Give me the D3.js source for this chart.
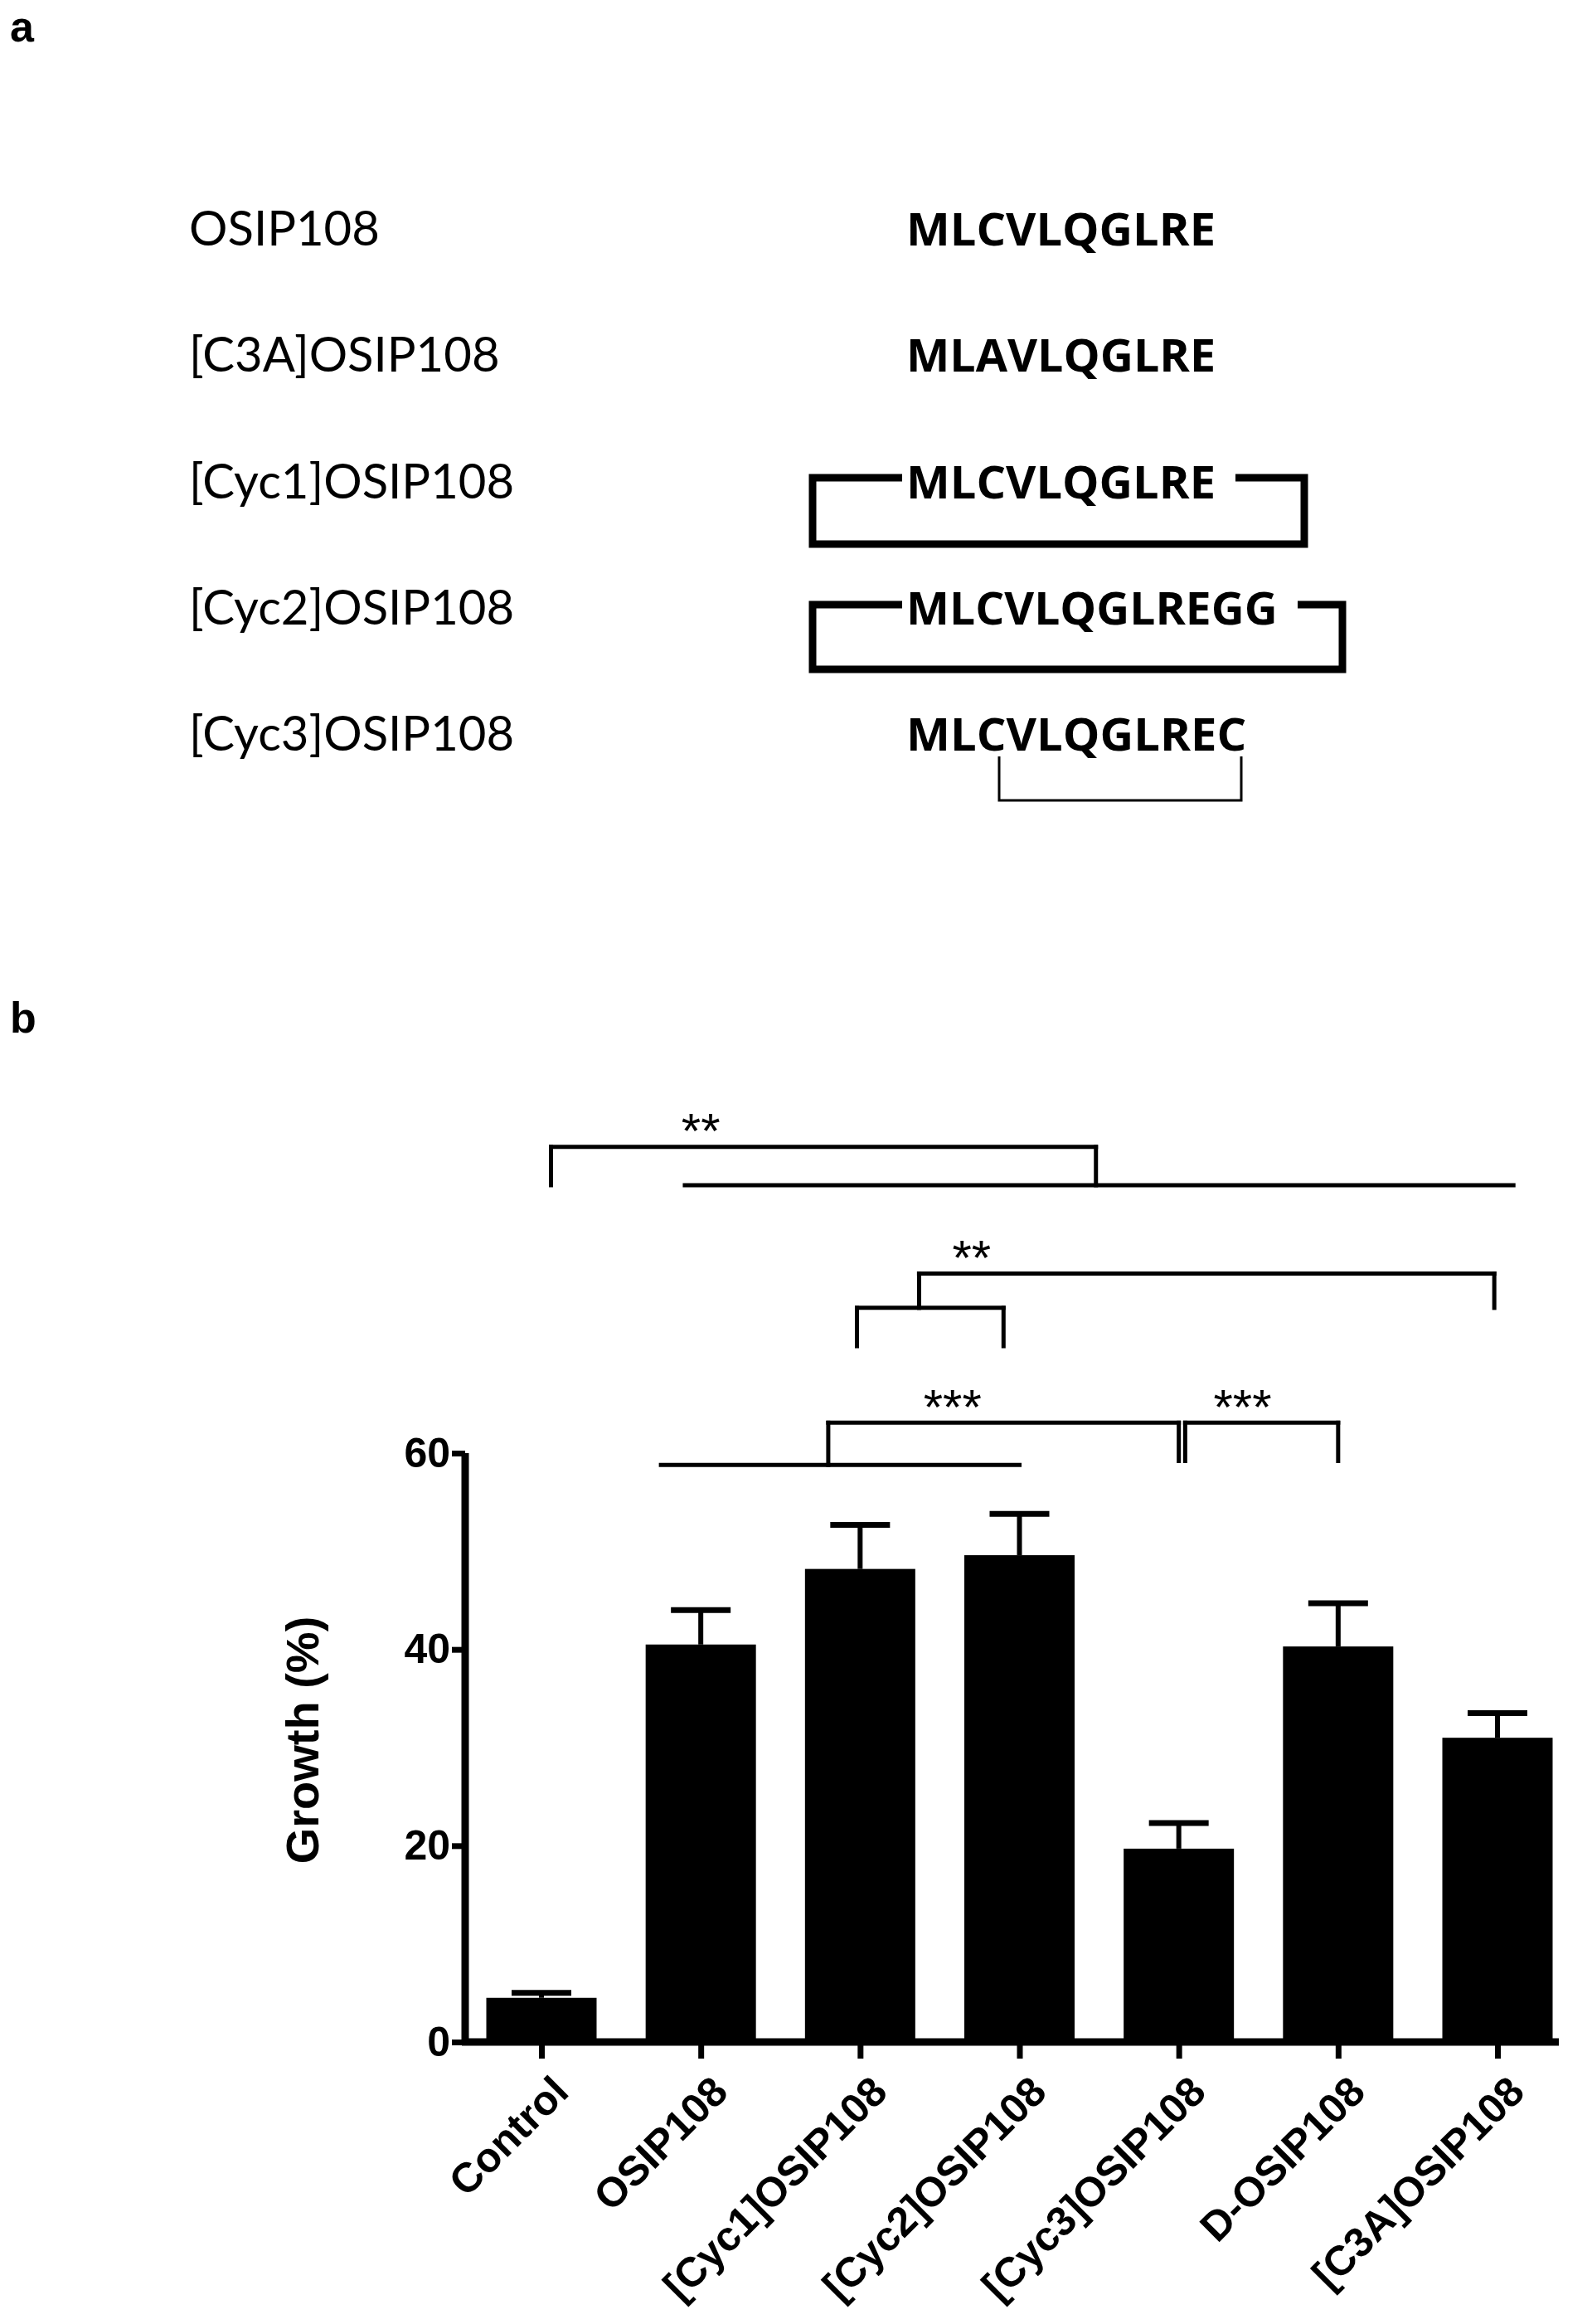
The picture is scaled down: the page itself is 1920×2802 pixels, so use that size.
<!DOCTYPE html>
<html><head><meta charset="utf-8">
<script src="https://cdn.jsdelivr.net/npm/d3@7"></script>
<style>body{margin:0;background:#fff}svg{display:block}</style>
</head><body>
<script>
const peptideNames = ["OSIP108","[C3A]OSIP108","[Cyc1]OSIP108","[Cyc2]OSIP108","[Cyc3]OSIP108"];
const sequences = ["MLCVLQGLRE","MLAVLQGLRE","MLCVLQGLRE","MLCVLQGLREGG","MLCVLQGLREC"];
const categories = ["Control","OSIP108","[Cyc1]OSIP108","[Cyc2]OSIP108","[Cyc3]OSIP108","D-OSIP108","[C3A]OSIP108"];
const growth = [4.5,40.5,48.2,49.6,19.7,40.3,31.0];
const errTop = [5.0,44.0,52.7,53.8,22.3,44.7,33.5];
const yTicks = [0,20,40,60];
const sigSegments = [
  [0.06,87.3,0.06,91.2],[0.06,91.2,3.48,91.2],[3.48,91.2,3.48,87.3],[0.9,87.3,6.1,87.3],
  [2.37,74.8,2.37,78.3],[2.37,78.3,5.98,78.3],[5.98,78.3,5.98,74.8],
  [1.98,70.9,1.98,74.8],[1.98,74.8,2.9,74.8],[2.9,74.8,2.9,70.9],
  [0.75,58.8,3.0,58.8],[1.8,58.8,1.8,63.1],[1.8,63.1,4.0,63.1],[4.0,63.1,4.0,59.2],
  [4.04,59.2,4.04,63.1],[4.04,63.1,5.0,63.1],[5.0,63.1,5.0,59.2]
];
const sigLabels = [["**",1.0,93.5],["**",2.7,80.5],["***",2.58,65.3],["***",4.4,65.3]];

const W=1920,H=2802;
const svg=d3.select("body").append("svg").attr("width",W).attr("height",H);

svg.append("text").attr("x",12).attr("y",50).attr("font-family","Liberation Sans").attr("font-weight","bold").attr("font-size",52).text("a");
const rowY = d3.scalePoint().domain(peptideNames).range([276,885]);
const fa="Lato, 'Open Sans', sans-serif";
svg.selectAll("text.pn").data(peptideNames).join("text").attr("x",228).attr("y",d=>rowY(d)+20)
  .attr("font-family",fa).attr("font-size",58).text(d=>d);
svg.selectAll("text.sq").data(sequences).join("text").attr("x",1093).attr("y",(d,i)=>rowY(peptideNames[i])+20)
  .attr("font-family","'Open Sans', sans-serif").attr("font-weight","bold").attr("font-size",54)
  .attr("textLength",d=>d.length*37.3).attr("lengthAdjust","spacingAndGlyphs").text(d=>d);
const box = (l,r,t,b,s)=>`M1088,${t} H${l} V${b} H${r} V${t} H${s}`;
svg.append("path").attr("d",box(980,1573,576,656,1490)).attr("fill","none").attr("stroke","#000").attr("stroke-width",9);
svg.append("path").attr("d",box(980,1619,729,807,1565)).attr("fill","none").attr("stroke","#000").attr("stroke-width",9);
svg.append("path").attr("d","M1205,912 V965 H1497 V912").attr("fill","none").attr("stroke","#000").attr("stroke-width",3);

svg.append("text").attr("x",12).attr("y",1245).attr("font-family","Liberation Sans").attr("font-weight","bold").attr("font-size",52).text("b");
const x=d3.scalePoint().domain(categories).range([653,1806]);
const step=x.step();
const xi=v=>653+v*step;
const y=d3.scaleLinear().domain([0,60]).range([2462,1752]);
const bw=133;
const g=svg.append("g");
g.selectAll("rect.bar").data(growth).join("rect").attr("x",(d,i)=>x(categories[i])-bw/2).attr("width",bw)
  .attr("y",d=>y(d)).attr("height",d=>y(0)-y(d)).attr("fill","#000");
g.selectAll("line.eb").data(errTop).join("line").attr("x1",(d,i)=>x(categories[i])).attr("x2",(d,i)=>x(categories[i]))
  .attr("y1",(d,i)=>y(growth[i])).attr("y2",d=>y(d)).attr("stroke","#000").attr("stroke-width",6);
g.selectAll("line.cap").data(errTop).join("line").attr("x1",(d,i)=>x(categories[i])-36).attr("x2",(d,i)=>x(categories[i])+36)
  .attr("y1",d=>y(d)).attr("y2",d=>y(d)).attr("stroke","#000").attr("stroke-width",7);

const yAxis=svg.append("g").attr("transform","translate(561,0)").call(d3.axisLeft(y).tickValues(yTicks).tickSize(16).tickSizeOuter(0));
yAxis.selectAll(".tick line").attr("stroke-width",7);
yAxis.selectAll(".tick text").attr("font-family","Liberation Sans Narrow, Liberation Sans").attr("font-weight","bold").attr("font-size",50).attr("x",-18);
yAxis.select(".domain").attr("d","M0,"+(y(0)+4)+"V"+y(60)).attr("stroke-width",9);

const xAxis=svg.append("g").attr("transform",`translate(0,${y(0)})`).call(d3.axisBottom(x).tickSize(20).tickSizeOuter(0));
xAxis.select(".domain").attr("d","M557,0H1880").attr("stroke-width",9);
xAxis.selectAll(".tick line").attr("stroke-width",7);
xAxis.selectAll(".tick text").attr("font-family","Liberation Sans").attr("font-weight","bold").attr("font-size",50)
  .attr("text-anchor","end").attr("transform","translate(10,38) rotate(-45)").attr("dy","0.7em").attr("y",0).attr("x",0);

svg.append("text").attr("transform",`translate(384,2098) rotate(-90)`).attr("text-anchor","middle")
  .attr("font-family","Liberation Sans").attr("font-weight","bold").attr("font-size",56).text("Growth (%)");

svg.selectAll("line.sig").data(sigSegments).join("line")
  .attr("x1",d=>xi(d[0])).attr("y1",d=>y(d[1])).attr("x2",d=>xi(d[2])).attr("y2",d=>y(d[3]))
  .attr("stroke","#000").attr("stroke-width",5).attr("stroke-linecap","square");
svg.selectAll("text.sig").data(sigLabels).join("text").attr("x",d=>xi(d[1])).attr("y",d=>y(d[2])+28)
  .attr("text-anchor","middle").attr("font-family","Liberation Sans").attr("font-size",60).text(d=>d[0]);
</script>
</body></html>
